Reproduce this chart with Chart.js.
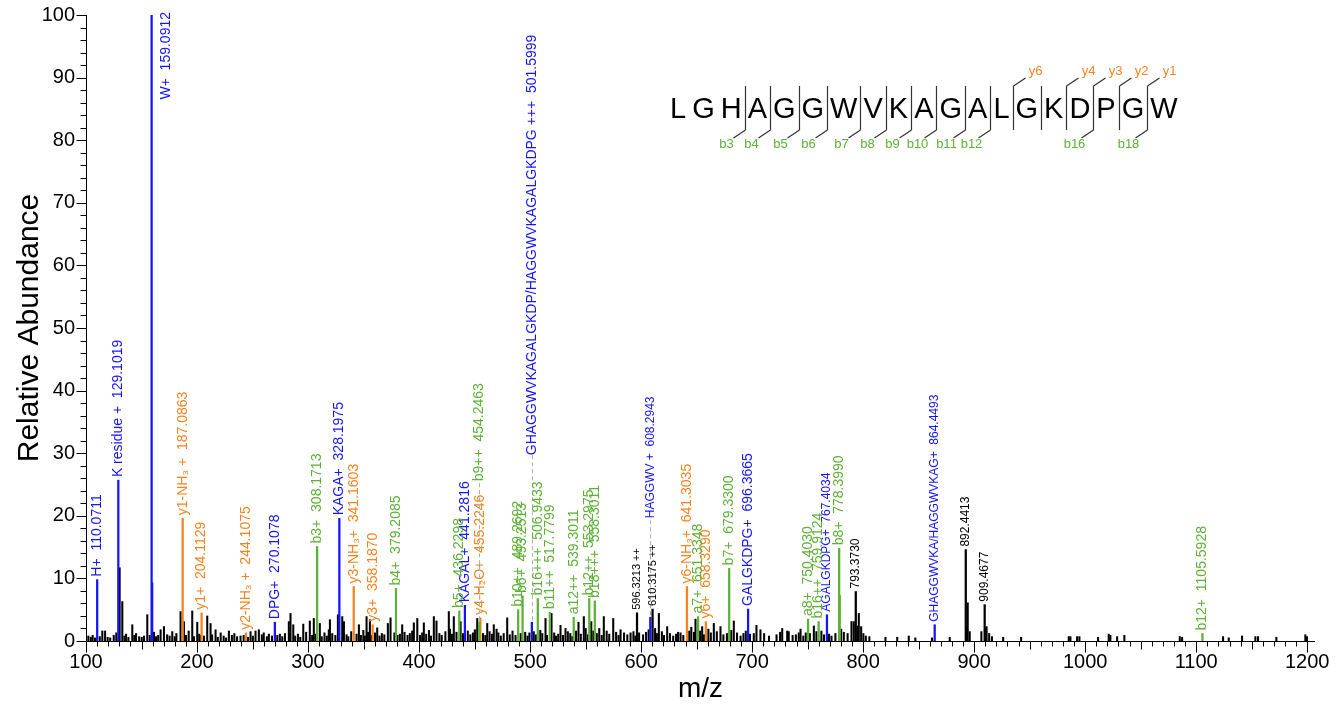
<!DOCTYPE html>
<html>
<head>
<meta charset="utf-8">
<script src="https://cdn.jsdelivr.net/npm/chart.js@4.4.1/dist/chart.umd.min.js"></script>
<style>
  html, body { margin: 0; padding: 0; background: #fff; }
  canvas { display: block; }
</style>
</head>
<body>
<canvas id="spectrum" width="1336" height="707" style="width:1336px;height:707px"></canvas>
<script>
// ---- axis ranges and tick labels ----
const mzRange = [100, 1207];
const abundanceRange = [0, 100];
const mzTicks = [100, 200, 300, 400, 500, 600, 700, 800, 900, 1000, 1100, 1200];
const abundanceTicks = [0, 10, 20, 30, 40, 50, 60, 70, 80, 90, 100];

// ---- annotated fragment peaks (m/z, relative abundance) ----
const blueNames = ['H+', 'K residue +', 'W+', 'DPG+', 'KAGA+', 'KAGAL+',
  'GHAGGWVKAGALGKDP/HAGGWVKAGALGKDPG +++', 'HAGGWV +', 'GALGKDPG+', 'AGALGKDPG+',
  'GHAGGWVKA/HAGGWVKAG+'];
const blueMz = [110.0711, 129.1019, 159.0912, 270.1078, 328.1975, 441.2816,
  501.5999, 608.2943, 696.3665, 767.4034, 864.4493];
const blueInt = [9.8, 25.7, 100, 3.0, 19.6, 5.7, 3.0, 3.8, 5.1, 4.2, 2.6];

const yNames = ['y1-NH\u2083 +', 'y1+', 'y2-NH\u2083 +', 'y3-NH\u2083+', 'y3+', 'y4-H\u2082O+', 'y6-NH\u2083+', 'y6+'];
const yMz = [187.0863, 204.1129, 244.1075, 341.1603, 358.1870, 455.2246, 641.3035, 658.3290];
const yInt = [19.6, 4.5, 1.3, 8.7, 2.6, 3.7, 8.7, 3.1];

const bNames = ['b3+', 'b4+', 'b5+', 'b9++', 'b10++', 'b6+', 'b16+++', 'b11++', 'a12++', 'b12++',
  'b18+++', 'a7+', 'b7+', 'a8+', 'b16++', 'b8+', 'b12+'];
const bMz = [308.1713, 379.2085, 436.2298, 454.2463, 489.2692, 493.2513, 506.9433, 517.7799,
  539.3011, 553.2975, 558.3011, 651.3348, 679.3300, 750.4030, 759.9124, 778.3990, 1105.5928];
const bInt = [15.1, 8.4, 4.8, 3.0, 5.0, 7.2, 6.8, 4.6, 3.8, 6.8, 6.4, 3.9, 11.6, 3.5, 3.1, 14.8, 1.2];

const otherNames = ['++', '++', '', '', ''];
const otherMz = [596.3213, 610.3175, 793.3730, 892.4413, 909.4677];
const otherInt = [4.5, 5.1, 7.9, 14.6, 5.8];

// isotope shoulders drawn in the ion colour but left unlabelled
const blueShoulderMz = [159.6];
const blueShoulderInt = [9.3];
const greenShoulderMz = [778.9];
const greenShoulderInt = [7.3];

// ---- unassigned peaks ----
const noiseMz = [
  102.1, 104.3, 106.0, 108.1, 112.4, 114.7, 117.2, 119.5, 121.8, 125.0, 127.3, 130.3, 132.7,
  134.6, 136.1, 138.2, 141.7, 143.5, 145.1, 147.9, 150.2, 152.3, 155.2, 157.4, 161.2, 163.1,
  165.0, 167.2, 170.2, 173.1, 175.3, 177.7, 179.9, 181.4, 185.2, 188.2, 190.1, 192.5, 195.7,
  197.3, 200.2, 202.0, 203.1, 206.2, 209.2, 212.2, 213.6, 216.7, 218.7, 221.3, 224.0, 226.2,
  228.7, 231.4, 233.6, 236.1, 239.2, 242.0, 245.9, 248.2, 250.3, 252.7, 255.7, 258.4, 260.1,
  262.9, 264.7, 267.5, 272.3, 274.6, 276.8, 279.2, 282.7, 284.2, 286.7, 288.4, 290.9, 293.0,
  295.7, 298.3, 301.6, 303.7, 305.2, 307.0, 310.6, 312.3, 314.8, 316.9, 318.7, 319.7, 321.8,
  324.6, 326.9, 330.8, 332.3, 334.7, 336.3, 338.9, 343.7, 345.8, 347.6, 349.8, 351.2, 352.7,
  354.0, 355.7, 357.0, 360.3, 362.3, 364.4, 366.5, 368.7, 371.9, 374.3, 377.8, 380.6, 382.7,
  384.8, 386.9, 389.6, 391.7, 393.8, 395.3, 398.4, 400.9, 402.8, 404.3, 406.4, 408.9, 410.7,
  413.3, 415.7, 418.3, 420.4, 423.7, 426.8, 427.9, 429.6, 431.3, 433.7, 437.4, 439.6, 443.9,
  446.2, 448.5, 450.3, 452.4, 457.6, 459.7, 461.4, 463.5, 465.6, 467.3, 469.8, 471.4, 473.6,
  476.2, 479.4, 481.7, 484.2, 486.9, 491.5, 495.6, 497.7, 499.4, 503.3, 505.2, 509.2, 511.0,
  513.9, 515.3, 519.3, 521.7, 523.4, 525.3, 527.4, 529.6, 531.9, 534.0, 536.2, 538.0, 541.4,
  543.6, 545.7, 548.4, 550.1, 552.2, 555.1, 557.0, 560.1, 562.3, 564.5, 566.4, 569.0, 571.3,
  574.9, 577.5, 579.7, 581.5, 584.6, 587.6, 590.5, 593.1, 594.8, 598.2, 601.8, 604.5, 606.8,
  612.6, 614.2, 616.0, 618.7, 620.6, 623.5, 626.0, 628.9, 631.5, 633.3, 635.5, 638.0, 643.4,
  645.2, 647.6, 649.0, 653.1, 655.0, 656.7, 660.6, 662.8, 665.5, 668.2, 671.5, 674.1, 677.3,
  681.2, 683.5, 686.4, 689.6, 692.2, 694.3, 698.0, 701.5, 703.9, 707.5, 710.8, 715.2, 722.0,
  725.2, 727.1, 731.6, 733.0, 736.5, 739.4, 742.0, 743.6, 746.1, 748.3, 752.0, 755.6, 757.9,
  762.4, 764.8, 769.3, 771.5, 775.0, 780.2, 782.6, 786.0, 789.5, 791.6, 795.0, 796.1, 798.2,
  800.2, 802.4, 805.6, 820.1, 830.7, 841.1, 847.0, 862.0, 878.0, 893.5, 894.2, 896.0, 906.5,
  910.4, 911.2, 913.5, 916.0, 926.1, 942.3, 985.2, 986.7, 992.7, 994.8, 1011.6, 1021.2,
  1022.7, 1028.8, 1035.3, 1085.2, 1087.3, 1124.2, 1129.3, 1141.3, 1153.3, 1155.7, 1172.2,
  1198.3, 1199.8
];
const noiseInt = [
  0.8, 0.6, 0.9, 0.5, 0.7, 1.6, 1.6, 0.6, 0.5, 0.9, 1.3, 11.7, 6.3,
  0.8, 1.1, 0.6, 2.6, 0.9, 1.2, 0.7, 0.6, 0.8, 4.2, 0.9, 1.4, 0.7,
  0.9, 1.8, 2.3, 1.0, 0.8, 1.5, 0.7, 1.2, 4.7, 3.1, 0.9, 1.6, 4.8,
  0.7, 3.0, 1.1, 0.9, 0.8, 4.0, 2.8, 1.0, 1.8, 0.6, 1.3, 0.8, 0.5,
  1.6, 0.9, 1.2, 0.7, 0.8, 0.9, 0.6, 1.5, 0.8, 1.6, 1.8, 1.0, 1.3,
  0.7, 1.1, 0.8, 0.9, 1.1, 0.7, 1.2, 3.1, 4.4, 2.6, 0.8, 1.1, 0.6,
  2.7, 1.4, 3.2, 0.9, 3.6, 1.1, 2.8, 0.7, 1.3, 0.8, 1.8, 3.4, 1.2,
  0.9, 4.2, 3.9, 3.1, 1.0, 0.7, 1.5, 1.1, 2.6, 0.9, 1.7, 0.8, 3.9,
  1.4, 3.4, 0.9, 1.3, 2.1, 0.8, 1.2, 1.0, 2.8, 3.7, 1.3, 0.9, 1.1,
  2.6, 1.4, 0.9, 1.2, 1.6, 2.9, 3.6, 0.9, 1.3, 2.9, 1.1, 1.7, 0.8,
  3.9, 3.2, 1.2, 0.9, 1.5, 4.7, 1.9, 1.1, 3.9, 1.4, 3.1, 1.2, 1.6,
  1.0, 1.3, 1.8, 3.6, 1.2, 0.9, 2.8, 1.5, 1.1, 2.6, 1.9, 1.3, 0.8,
  1.2, 3.7, 1.0, 1.6, 0.9, 1.2, 1.4, 0.8, 1.3, 1.5, 1.0, 1.7, 1.2,
  3.6, 0.9, 4.4, 1.3, 0.8, 1.1, 2.5, 0.9, 2.0, 1.5, 1.2, 0.7, 1.6,
  3.0, 1.1, 3.9, 2.0, 1.0, 3.1, 1.6, 1.2, 2.0, 0.9, 3.9, 1.6, 1.1,
  3.6, 1.4, 0.9, 1.8, 1.3, 1.0, 1.3, 1.5, 0.8, 1.3, 1.0, 1.4, 1.8,
  2.0, 1.2, 4.4, 1.5, 0.9, 2.3, 1.2, 0.8, 1.1, 1.4, 1.3, 0.9, 1.6,
  2.2, 1.4, 3.5, 1.6, 2.3, 1.0, 1.9, 1.3, 2.8, 1.5, 2.3, 1.0, 1.2,
  1.7, 3.2, 1.3, 0.8, 1.2, 1.6, 1.1, 1.2, 2.5, 1.8, 1.2, 0.8, 1.0,
  1.4, 2.0, 1.6, 1.5, 0.9, 1.0, 1.3, 1.9, 0.8, 1.3, 1.2, 2.4, 1.5,
  1.6, 1.0, 1.1, 0.8, 1.2, 1.9, 1.4, 1.2, 3.1, 3.1, 2.4, 4.4, 2.3,
  1.2, 0.8, 0.7, 0.6, 0.6, 0.8, 0.5, 0.5, 0.6, 2.2, 6.1, 1.5, 1.5,
  2.0, 2.3, 1.2, 0.7, 0.6, 0.6, 0.7, 0.7, 0.7, 0.7, 0.6, 1.1,
  0.9, 0.7, 0.9, 0.7, 0.6, 0.7, 0.5, 0.8, 0.7, 0.7, 0.6,
  1.0, 0.7
];

// ---- peptide sequence with observed cleavage sites ----
const peptideSeq = 'LGHAGGWVKAGALGKDPGW';
const bSites = [3, 4, 5, 6, 7, 8, 9, 10, 11, 12, 16, 18];
const ySites = [6, 4, 3, 2, 1];
const markedOnlySites = [14];

// ---- styling ----
const FONT = '"Liberation Sans", Arial, Helvetica, sans-serif';
const COLORS = { blue: '#1414ff', orange: '#f7831f', green: '#5db236', black: '#000000' };
const labelSize = { '608.2943': 12, '767.4034': 12, '864.4493': 12,
  '596.3213': 11, '610.3175': 11, '793.3730': 12, '892.4413': 12, '909.4677': 12 };
// labels raised above crowded peaks, joined by a dashed leader (px)
const leaderLift = { '454.2463': 138, '501.5999': 164, '608.2943': 96 };

const toPoints = (mz, ints) => mz.map((m, i) => ({ x: m, y: ints[i] }));

const labelGroups = [
  { mz: blueMz, ints: blueInt, color: COLORS.blue, text: i => blueNames[i] + '  ' + blueMz[i].toFixed(4) },
  { mz: yMz, ints: yInt, color: COLORS.orange, text: i => yNames[i] + '  ' + yMz[i].toFixed(4) },
  { mz: bMz, ints: bInt, color: COLORS.green, text: i => bNames[i] + '  ' + bMz[i].toFixed(4) },
  { mz: otherMz, ints: otherInt, color: COLORS.black,
    text: i => otherMz[i].toFixed(4) + (otherNames[i] ? ' ' + otherNames[i] : '') }
];

// axis lines with major/minor tick marks
const axisFrame = {
  id: 'axisFrame',
  afterDraw(chart) {
    const { ctx, chartArea: a, scales: { x, y } } = chart;
    ctx.save();
    ctx.strokeStyle = '#000';
    ctx.lineWidth = 1;
    ctx.beginPath();
    const by = Math.round(a.bottom) + 0.5;
    const lx = Math.round(a.left) + 0.5;
    ctx.moveTo(lx, Math.round(a.top));
    ctx.lineTo(lx, by);
    ctx.lineTo(Math.round(a.right), by);
    for (let v = mzRange[0]; v <= 1200; v += 10) {
      const px = Math.round(x.getPixelForValue(v)) + 0.5;
      const len = v % 100 === 0 ? 11 : (v % 50 === 0 ? 8 : 5);
      ctx.moveTo(px, by);
      ctx.lineTo(px, by + len);
    }
    for (let v = abundanceRange[0]; v <= abundanceRange[1]; v += 2) {
      const py = Math.round(y.getPixelForValue(v)) + 0.5;
      const len = v % 10 === 0 ? 10 : 6;
      ctx.moveTo(lx - len, py);
      ctx.lineTo(lx, py);
    }
    ctx.stroke();
    ctx.restore();
  }
};

// vertical fragment labels above each annotated peak
const peakLabels = {
  id: 'peakLabels',
  afterDatasetsDraw(chart) {
    const { ctx, chartArea: a, scales: { x, y } } = chart;
    ctx.save();
    for (const g of labelGroups) {
      g.mz.forEach((m, i) => {
        const key = m.toFixed(4);
        const text = g.text(i);
        const size = labelSize[key] || 14;
        ctx.font = size + 'px ' + FONT;
        const w = ctx.measureText(text).width;
        const px = x.getPixelForValue(m);
        const py = y.getPixelForValue(g.ints[i]);
        const lift = leaderLift[key] || 0;
        let bx = px, by = py - 3 - lift;
        if (by - w < a.top - 4) { bx = px + 15; by = a.top - 3 + w; }
        if (lift) {
          ctx.save();
          ctx.strokeStyle = '#b0b0b0';
          ctx.lineWidth = 1;
          ctx.setLineDash([4, 3]);
          ctx.beginPath();
          ctx.moveTo(Math.round(px) + 0.5, py - 2);
          ctx.lineTo(Math.round(px) + 0.5, by);
          ctx.stroke();
          ctx.restore();
        }
        ctx.save();
        ctx.translate(bx, by);
        ctx.rotate(-Math.PI / 2);
        ctx.textAlign = 'left';
        ctx.textBaseline = 'middle';
        ctx.fillStyle = g.color;
        ctx.fillText(text, 0, 0);
        ctx.restore();
      });
    }
    ctx.restore();
  }
};

// peptide sequence with b (below) and y (above) cleavage brackets
const peptideMap = {
  id: 'peptideMap',
  afterDraw(chart) {
    const ctx = chart.ctx;
    ctx.save();
    ctx.font = '29px ' + FONT;
    ctx.fillStyle = '#000';
    ctx.textAlign = 'left';
    ctx.textBaseline = 'alphabetic';
    const gap = 6, baseline = 117.5;
    let cx = 670;
    const edges = [];
    for (const ch of peptideSeq) {
      const w = ctx.measureText(ch).width;
      ctx.fillText(ch, cx, baseline);
      edges.push([cx, cx + w]);
      cx += w + gap;
    }
    const siteX = k => Math.round((edges[k - 1][1] + edges[k][0]) / 2) + 0.5;
    const n = peptideSeq.length;
    const sites = new Set([...bSites, ...ySites.map(v => n - v), ...markedOnlySites]);
    ctx.strokeStyle = '#333';
    ctx.lineWidth = 1.2;
    ctx.beginPath();
    for (const k of sites) {
      const sx = siteX(k);
      ctx.moveTo(sx, 86);
      ctx.lineTo(sx, 130);
    }
    for (const k of bSites) {
      const sx = siteX(k);
      ctx.moveTo(sx, 130);
      ctx.lineTo(sx - 12, 138);
    }
    for (const v of ySites) {
      const sx = siteX(n - v);
      ctx.moveTo(sx, 86);
      ctx.lineTo(sx + 12, 78);
    }
    ctx.stroke();
    ctx.font = '13px ' + FONT;
    ctx.textAlign = 'center';
    ctx.textBaseline = 'middle';
    ctx.fillStyle = COLORS.green;
    for (const k of bSites) ctx.fillText('b' + k, siteX(k) - 19, 144);
    ctx.fillStyle = COLORS.orange;
    for (const v of ySites) ctx.fillText('y' + v, siteX(n - v) + 22, 71);
    ctx.restore();
  }
};

const barStyle = { type: 'bar', grouped: false, barThickness: 1.6, borderWidth: 0 };

new Chart(document.getElementById('spectrum'), {
  data: {
    datasets: [
      { ...barStyle, label: 'b/a ions', data: toPoints(bMz, bInt), backgroundColor: COLORS.green, order: 1 },
      { ...barStyle, label: 'b/a shoulder', data: toPoints(greenShoulderMz, greenShoulderInt), backgroundColor: COLORS.green, order: 1 },
      { ...barStyle, label: 'y ions', data: toPoints(yMz, yInt), backgroundColor: COLORS.orange, order: 1 },
      { ...barStyle, label: 'internal ions', data: toPoints(blueMz, blueInt), backgroundColor: COLORS.blue, order: 1 },
      { ...barStyle, label: 'internal shoulder', data: toPoints(blueShoulderMz, blueShoulderInt), backgroundColor: COLORS.blue, order: 1 },
      { ...barStyle, label: 'other labelled', data: toPoints(otherMz, otherInt), backgroundColor: COLORS.black, order: 2 },
      { ...barStyle, label: 'unassigned', data: toPoints(noiseMz, noiseInt), backgroundColor: COLORS.black, barThickness: 1.4, order: 3 }
    ]
  },
  options: {
    responsive: false,
    animation: false,
    devicePixelRatio: 1,
    layout: { padding: { top: 15, right: 21, left: 0, bottom: 0 } },
    plugins: { legend: { display: false }, tooltip: { enabled: false } },
    scales: {
      x: {
        type: 'linear', min: mzRange[0], max: mzRange[1], offset: false,
        grid: { display: false, drawTicks: false }, border: { display: false },
        afterBuildTicks(s) { s.ticks = mzTicks.map(v => ({ value: v })); },
        ticks: { autoSkip: false, maxRotation: 0, callback: v => String(v),
          font: { size: 20, family: FONT }, color: '#000', padding: 9 },
        title: { display: true, text: 'm/z', font: { size: 28, family: FONT }, color: '#000',
          padding: { top: 0, bottom: 1 } },
        afterFit(s) { s.height = 66; s.paddingLeft = 0; s.paddingRight = 0; }
      },
      y: {
        min: abundanceRange[0], max: abundanceRange[1],
        grid: { display: false, drawTicks: false }, border: { display: false },
        afterBuildTicks(s) { s.ticks = abundanceTicks.map(v => ({ value: v })); },
        ticks: { autoSkip: false, callback: v => String(v),
          font: { size: 20, family: FONT }, color: '#000', padding: 11 },
        title: { display: true, text: 'Relative Abundance', font: { size: 30, family: FONT }, color: '#000',
          padding: { top: 12, bottom: 0 } },
        afterFit(s) { s.width = 86; s.paddingTop = 0; s.paddingBottom = 0; }
      }
    }
  },
  plugins: [axisFrame, peakLabels, peptideMap]
});
</script>
</body>
</html>
